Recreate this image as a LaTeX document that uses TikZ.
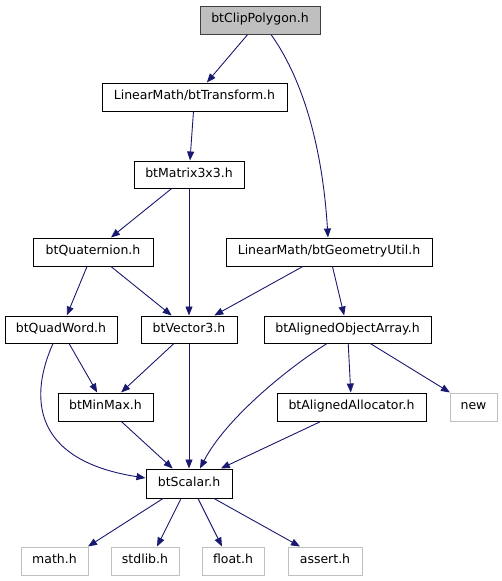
\documentclass[tikz,border=0pt]{standalone}
\usepackage{fontspec}
\setmainfont{DejaVu Sans}
\usetikzlibrary{arrows.meta,calc}
\definecolor{edgeblue}{HTML}{191970}
\definecolor{grayfill}{HTML}{BFBFBF}
\definecolor{grayline}{HTML}{BFBFBF}
\definecolor{boxline}{HTML}{404040}
\tikzset{
  hbox/.style={draw=black, line width=1pt, fill=white, inner sep=0pt, font=\fontsize{12.5}{15}\selectfont, text height=9.3pt, text depth=3.9pt},
  rootbox/.style={hbox, fill=grayfill, draw=boxline},
  sysbox/.style={hbox, draw=grayline},
  dep/.style={draw=edgeblue, line width=0.9pt, -{Triangle[length=9pt,width=7pt]}},
}
\begin{document}
\begin{tikzpicture}[x=1pt,y=-1pt]
\useasboundingbox (0,0) rectangle (501,581);
\node[rootbox, minimum width=120pt, minimum height=28pt] (clip) at (260,20) {btClipPolygon.h};
\node[hbox, minimum width=185pt, minimum height=28pt] (trans) at (194.5,97) {LinearMath/btTransform.h};
\node[hbox, minimum width=110pt, minimum height=27pt] (mat) at (189,174.5) {btMatrix3x3.h};
\node[hbox, minimum width=120pt, minimum height=28pt] (quat) at (93,252) {btQuaternion.h};
\node[hbox, minimum width=206pt, minimum height=28pt] (geom) at (329,252) {LinearMath/btGeometryUtil.h};
\node[hbox, minimum width=112pt, minimum height=27pt] (quad) at (61,329.5) {btQuadWord.h};
\node[hbox, minimum width=96pt, minimum height=27pt] (vec) at (189,329.5) {btVector3.h};
\node[hbox, minimum width=167pt, minimum height=27pt] (aoa) at (347.5,329.5) {btAlignedObjectArray.h};
\node[hbox, minimum width=95pt, minimum height=28pt] (minmax) at (105.5,407) {btMinMax.h};
\node[hbox, minimum width=149pt, minimum height=28pt] (alloc) at (351.5,407) {btAlignedAllocator.h};
\node[sysbox, minimum width=47pt, minimum height=28pt] (new) at (473.5,407) {new};
\node[hbox, minimum width=86pt, minimum height=29pt] (scalar) at (189,483.5) {btScalar.h};
\node[sysbox, minimum width=67pt, minimum height=28pt] (math) at (54.5,561) {math.h};
\node[sysbox, minimum width=68pt, minimum height=28pt] (stdlib) at (145,561) {stdlib.h};
\node[sysbox, minimum width=62pt, minimum height=28pt] (float) at (233,561) {float.h};
\node[sysbox, minimum width=74pt, minimum height=28pt] (assert) at (325,561) {assert.h};

\draw[dep] (clip) -- (trans);
\draw[dep] ($(clip.south)+(11,0)$) .. controls (300,75) and (322,140) .. ($(geom.north)+(-1,0)$);
\draw[dep] (trans) -- (mat);
\draw[dep] (mat) -- (quat);
\draw[dep] (mat) -- (vec);
\draw[dep] (quat) -- (quad);
\draw[dep] (quat) -- (vec);
\draw[dep] (geom) -- (vec);
\draw[dep] (geom) -- (aoa);
\draw[dep] (quad) -- (minmax);
\draw[dep] ($(quad.south)+(-8,0)$) .. controls (30,395) and (30,460) .. ($(scalar.west)+(0,-5.5)$);
\draw[dep] (vec) -- (minmax);
\draw[dep] (vec) -- (scalar);
\draw[dep] ($(aoa.south)+(-20.5,0)$) .. controls (285,370) and (225,420) .. ($(scalar.north)+(11,0)$);
\draw[dep] (aoa) -- (alloc);
\draw[dep] (aoa) -- (new);
\draw[dep] (minmax) -- (scalar);
\draw[dep] (alloc) -- (scalar);
\draw[dep] ($(scalar.south)+(-26,0)$) -- ($(math.north)+(33.5,0)$);
\draw[dep] ($(scalar.south)+(-8,0)$) -- ($(stdlib.north)+(12,0)$);
\draw[dep] ($(scalar.south)+(9,0)$) -- ($(float.north)+(-11,0)$);
\draw[dep] ($(scalar.south)+(25,0)$) -- ($(assert.north)+(-25,0)$);
\end{tikzpicture}
\end{document}
